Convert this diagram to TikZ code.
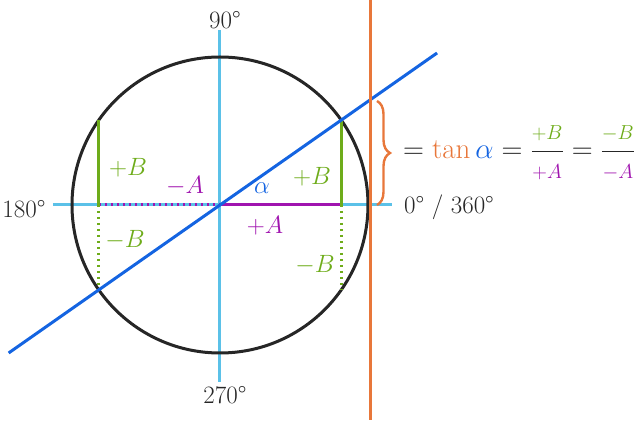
\RequirePackage{fix-cm}
\documentclass[tikz,border=0pt]{standalone}
\usepackage{amsmath}
\usepackage{fontspec}
\usepackage{xcolor}
\usepackage{tikz}
\usetikzlibrary{decorations.pathreplacing}

\definecolor{axisblue}{RGB}{91,193,232}
\definecolor{lineblue}{RGB}{20,100,225}
\definecolor{tanorange}{RGB}{232,119,58}
\definecolor{sinegreen}{RGB}{110,172,26}
\definecolor{cosmagenta}{RGB}{160,20,175}
\definecolor{circlegray}{RGB}{38,38,38}

\newcommand{\ratio}[2]{\dfrac{\scriptstyle\color{sinegreen}#1}{\scriptstyle\color{cosmagenta}#2}}

\tikzset{
  lbl/.style={font=\fontsize{25}{28}\selectfont, text=circlegray, inner sep=1pt},
  eqlbl/.style={font=\fontsize{29}{33}\selectfont, text=circlegray, inner sep=1pt},
  thickline/.style={line width=3pt},
  dotline/.style={line width=3pt, dash pattern=on 2.5pt off 3.5pt}
}

\begin{document}
\begin{tikzpicture}[x=1pt,y=1pt]
        \useasboundingbox (-220,-220) rectangle (420,205);

        \coordinate (O) at (0,0);
        \coordinate (left) at (-167,0);
        \coordinate (right) at (172,0);
        \coordinate (top) at (0,175);
        \coordinate (bottom) at (0,-177);
        \coordinate (P) at (35:148);
        \coordinate (Q) at (215:148);
        \coordinate (rayend) at (35:265);
        \coordinate (raystart) at (215:258);
        \coordinate (tantop) at (150,205);
        \coordinate (tanbottom) at (150,-215);

        % axes and circle
        \draw[axisblue, thickline] (left) -- (right);
        \draw[axisblue, thickline] (top) -- (bottom);
        \draw[circlegray, thickline] (O) circle (148);

        % cosine and sine
        \draw[cosmagenta, dotline] (Q |- O) -- (O);
        \draw[cosmagenta, thickline] (O) -- (P |- O);
        \draw[sinegreen, thickline] (P) -- (P |- O);
        \draw[sinegreen, dotline] (P |- O) -- (P |- Q);
        \draw[sinegreen, thickline] (Q |- P) -- (Q |- O);
        \draw[sinegreen, dotline] (Q |- O) -- (Q);

        % ray and tangent
        \draw[lineblue, thickline] (raystart) -- (rayend);
        \draw[tanorange, thickline] (tantop) -- (tanbottom);
        \draw[tanorange, line width=2.4pt, decorate,
              decoration={brace, amplitude=13pt}] (157,104) -- (157,0);

        % labels
        \node[lbl] (n90) at (5,185) {90°};
        \node[lbl] (n270) at (5,-190) {270°};
        \node[lbl] (n180) at (-196,-4) {180°};
        \node[lbl] (n0) at (229,-2) {0° / 360°};

        \node[lbl, text=sinegreen] (bl) at (-92,37) {$+B$};
        \node[lbl, text=cosmagenta] (al) at (-35,19) {$-A$};
        \node[lbl, text=sinegreen] (bll) at (-95,-35) {$-B$};
        \node[lbl, text=lineblue] (alpha) at (42,17) {$\alpha$};
        \node[lbl, text=sinegreen] (br) at (92,28) {$+B$};
        \node[lbl, text=cosmagenta] (ar) at (45,-21) {$+A$};
        \node[lbl, text=sinegreen] (brl) at (95,-60) {$-B$};

        \node[eqlbl, anchor=west] (eq) at (182,52)
          {$= {\color{tanorange}\tan}\,{\color{lineblue}\alpha}
            = \ratio{+B}{+A} = \ratio{-B}{-A}$};
    \end{tikzpicture}
\end{document}
